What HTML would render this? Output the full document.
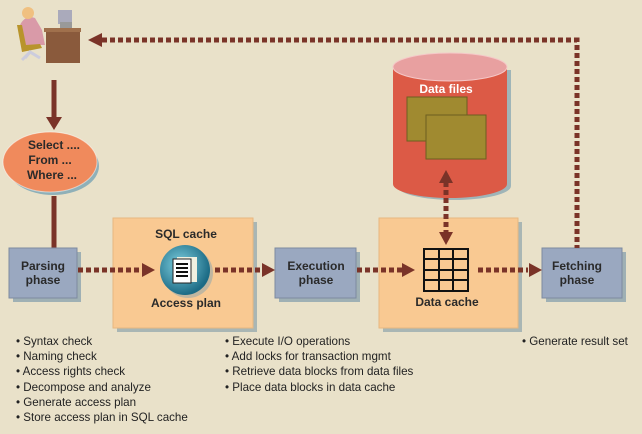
<!DOCTYPE html>
<html><head><style>
body{margin:0;background:#e9e1c9;}
svg{display:block;font-family:"Liberation Sans",sans-serif;}
text{font-size:11.6px;fill:#222;}
.b{font-weight:bold;font-size:12px;fill:#2a2a2a}
</style></head><body>
<svg width="642" height="434" viewBox="0 0 642 434">
<rect width="642" height="434" fill="#e9e1c9"/>
<defs>
<radialGradient id="cg" cx="0.4" cy="0.4" r="0.6"><stop offset="0" stop-color="#7fd0e0"/><stop offset="1" stop-color="#1c6b85"/></radialGradient>
</defs>
<!-- person -->
<g>
<rect x="46" y="30" width="34" height="33" fill="#8a5a3c"/>
<rect x="44" y="28" width="37" height="4" fill="#a0704c"/>
<rect x="58" y="10" width="14" height="14" fill="#aab"/>
<rect x="60" y="22" width="12" height="6" fill="#999"/>
<path d="M20 25 Q25 15 35 18 L42 30 L45 45 L25 45 Z" fill="#d99aa8"/>
<circle cx="28" cy="13" r="6" fill="#f0c080"/>
<path d="M17 25 L22 52 L42 48 L40 44 L26 45 L22 25Z" fill="#b8942c"/>
<path d="M25 58 L30 52 L40 58 M30 52 L22 60" stroke="#ccd" stroke-width="3" fill="none"/>
</g>
<g stroke="#7a3328" stroke-width="5"><line x1="54" y1="80" x2="54" y2="118"/><line x1="54" y1="196" x2="54" y2="248"/></g>
<polygon points="54,130 46,117 62,117" fill="#7a3328"/>
<!-- ellipse -->
<ellipse cx="53" cy="166" rx="46" ry="29" fill="#8fb0b8"/>
<ellipse cx="50" cy="162" rx="47" ry="30" fill="#f08a5c" stroke="#fff" stroke-opacity=".5"/>
<text class="b" x="54" y="149" text-anchor="middle">Select ....</text>
<text class="b" x="50" y="164" text-anchor="middle">From ...</text>
<text class="b" x="52" y="179" text-anchor="middle">Where ...</text>
<!-- boxes -->
<rect x="13" y="252" width="68" height="50" fill="#9fb0b4"/>
<rect x="9" y="248" width="68" height="50" fill="#9aa8c0" stroke="#7d8aa0"/>
<text class="b" x="43" y="270" text-anchor="middle">Parsing</text>
<text class="b" x="43" y="284" text-anchor="middle">phase</text>
<rect x="117" y="222" width="140" height="110" fill="#a9b6b4"/>
<rect x="113" y="218" width="140" height="110" fill="#f9c992" stroke="#e8b880"/>
<text class="b" x="186" y="238" text-anchor="middle">SQL cache</text>
<text class="b" x="186" y="307" text-anchor="middle">Access plan</text>
<circle cx="188" cy="273" r="25" fill="#9aa" opacity=".6"/>
<circle cx="185" cy="270" r="25" fill="url(#cg)"/>
<rect x="177" y="257" width="20" height="25" fill="#f0f0e0"/>
<rect x="173" y="259" width="18" height="24" fill="#fff" stroke="#222"/>
<g stroke="#111" stroke-width="2"><line x1="176" y1="264" x2="188" y2="264"/><line x1="176" y1="268" x2="188" y2="268"/><line x1="176" y1="272" x2="188" y2="272"/><line x1="176" y1="276" x2="188" y2="276"/></g>
<rect x="279" y="252" width="81" height="50" fill="#9fb0b4"/>
<rect x="275" y="248" width="81" height="50" fill="#9aa8c0" stroke="#7d8aa0"/>
<text class="b" x="316" y="270" text-anchor="middle">Execution</text>
<text class="b" x="316" y="284" text-anchor="middle">phase</text>
<rect x="383" y="222" width="139" height="110" fill="#a9b6b4"/>
<rect x="379" y="218" width="139" height="110" fill="#f9c992" stroke="#e8b880"/>
<g stroke="#111" stroke-width="2" fill="none">
<rect x="424" y="249" width="44" height="42"/>
<line x1="439" y1="249" x2="439" y2="291"/><line x1="453" y1="249" x2="453" y2="291"/>
<line x1="424" y1="259" x2="468" y2="259"/><line x1="424" y1="270" x2="468" y2="270"/><line x1="424" y1="280" x2="468" y2="280"/>
</g>
<text class="b" x="447" y="306" text-anchor="middle">Data cache</text>
<rect x="546" y="252" width="80" height="50" fill="#9fb0b4"/>
<rect x="542" y="248" width="80" height="50" fill="#9aa8c0" stroke="#7d8aa0"/>
<text class="b" x="577" y="270" text-anchor="middle">Fetching</text>
<text class="b" x="577" y="284" text-anchor="middle">phase</text>
<!-- cylinder -->
<path d="M397 70 V186 A57 14 0 0 0 511 186 V70Z" fill="#9fb5b8"/>
<path d="M393 67 V184 A57 14 0 0 0 507 184 V67Z" fill="#dc5a46"/>
<ellipse cx="450" cy="67" rx="57" ry="14" fill="#e8a0a0" stroke="#f5c8c8"/>
<text x="446" y="93" text-anchor="middle" style="font-weight:bold;font-size:12px;fill:#fff">Data files</text>
<rect x="407" y="97" width="60" height="44" fill="#a08a30" stroke="#6d5f20"/>
<rect x="426" y="115" width="60" height="44" fill="#a08a30" stroke="#6d5f20"/>
<!-- connectors on top -->
<g stroke="#7a3328" stroke-width="5" stroke-dasharray="5,3" fill="none">
<path d="M102 40 H577 V248"/>
<path d="M78 270 H142"/><path d="M215 270 H262"/><path d="M357 270 H404"/><path d="M478 270 H528"/>
<path d="M446 182 V232"/>
</g>
<g fill="#7a3328">
<polygon points="88,40 102,33 102,47"/>
<polygon points="155,270 142,263 142,277"/>
<polygon points="275,270 262,263 262,277"/>
<polygon points="415,270 402,263 402,277"/>
<polygon points="542,270 529,263 529,277"/>
<polygon points="446,170 439,183 453,183"/>
<polygon points="446,245 439,232 453,232"/>
</g>
<!-- bullets -->
<g>
<text x="16" y="345">• Syntax check</text>
<text x="16" y="360">• Naming check</text>
<text x="16" y="375">• Access rights check</text>
<text x="16" y="391">• Decompose and analyze</text>
<text x="16" y="406">• Generate access plan</text>
<text x="16" y="421">• Store access plan in SQL cache</text>
<text x="225" y="345">• Execute I/O operations</text>
<text x="225" y="360">• Add locks for transaction mgmt</text>
<text x="225" y="375">• Retrieve data blocks from data files</text>
<text x="225" y="391">• Place data blocks in data cache</text>
<text x="522" y="345">• Generate result set</text>
</g>
</svg>
</body></html>
